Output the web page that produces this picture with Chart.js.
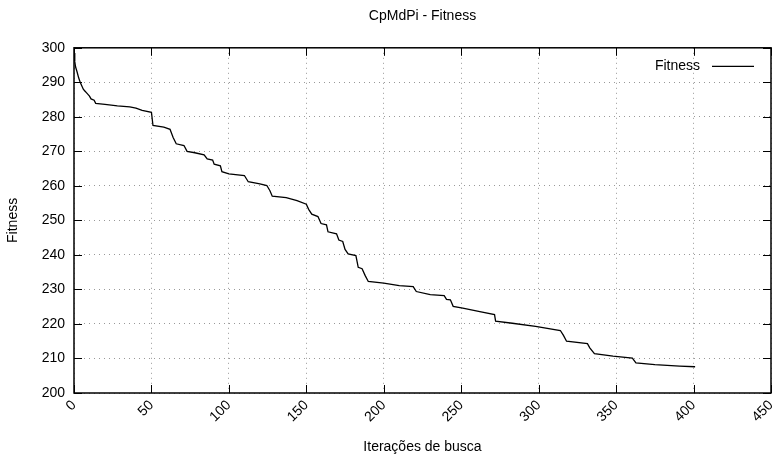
<!DOCTYPE html>
<html>
<head>
<meta charset="utf-8">
<script src="https://cdn.jsdelivr.net/npm/chart.js@4.4.1/dist/chart.umd.min.js"></script>
<style>
  html, body { margin: 0; padding: 0; background: #fff; }
  #wrap { width: 775px; height: 466px; position: relative; }
</style>
</head>
<body>
<div id="wrap"><canvas id="c" width="775" height="466"></canvas></div>
<script>
const chartTitle = "CpMdPi - Fitness";
const xAxisTitle = "Iterações de busca";
const yAxisTitle = "Fitness";
const seriesName = "Fitness";

const iterations = [0, 0.5, 1, 2, 3, 4, 5, 6, 7, 8, 9, 10, 11, 13, 14, 20, 28, 36, 40, 44, 50, 51, 58, 62, 64, 66, 71, 73, 78, 84, 86, 89.5, 90.5, 94.5, 95.5, 100, 110, 112.5, 120, 124.5, 126.5, 128, 137, 144, 150, 151.5, 153.5, 157.5, 159.5, 163, 164, 169.5, 171, 173.5, 175, 177, 182, 183.5, 186, 188, 190, 200, 210, 219, 221, 230, 239, 240.5, 243, 244.8, 251, 262, 271.5, 272.2, 283, 298, 314, 316, 318, 331.5, 333, 336, 348, 360.5, 362.8, 375, 391, 401];
const fitness = [298.5, 296, 294.5, 293, 291.3, 290, 289, 288, 287.5, 287, 286.5, 286, 285.2, 284.8, 283.9, 283.6, 283.2, 282.9, 282.5, 281.9, 281.3, 277.5, 277, 276.4, 274, 272.2, 271.7, 270, 269.6, 269, 267.8, 267.5, 266.3, 265.8, 264.1, 263.5, 263, 261.2, 260.6, 260.1, 258.6, 257, 256.6, 255.7, 254.7, 253.2, 251.8, 251.1, 249.1, 248.7, 246.7, 246.1, 244.3, 243.9, 241.6, 240.3, 239.8, 236.4, 236, 234, 232.3, 231.8, 231.1, 230.8, 229.4, 228.5, 228.2, 227.1, 227, 225.1, 224.6, 223.6, 222.7, 220.8, 220.2, 219.3, 218.1, 216.7, 215, 214.3, 213.1, 211.4, 210.7, 210.1, 208.7, 208.2, 207.8, 207.6];

const xMin = 0, xMax = 450, xStep = 50;
const yMin = 200, yMax = 300, yStep = 10;

const points = iterations.map((x, i) => ({ x: x, y: fitness[i] }));
const FONT = '"Liberation Sans", Arial, Helvetica, sans-serif';

const framePlugin = {
  id: 'frame',
  afterDatasetsDraw(chart) {
    const { ctx, chartArea: a, scales: { x, y } } = chart;
    ctx.save();
    ctx.strokeStyle = '#000';
    ctx.lineWidth = 1;
    const tl = 8;
    ctx.beginPath();
    for (let v = xMin; v <= xMax; v += xStep) {
      const px = Math.round(x.getPixelForValue(v)) + 0.5;
      ctx.moveTo(px, a.bottom); ctx.lineTo(px, a.bottom - tl);
      ctx.moveTo(px, a.top); ctx.lineTo(px, a.top + tl);
    }
    for (let v = yMin; v <= yMax; v += yStep) {
      const py = Math.round(y.getPixelForValue(v)) + 0.5;
      ctx.moveTo(a.left, py); ctx.lineTo(a.left + tl, py);
      ctx.moveTo(a.right, py); ctx.lineTo(a.right - tl, py);
    }
    ctx.stroke();
    ctx.lineWidth = 1.5;
    ctx.strokeRect(a.left, a.top, a.right - a.left, a.bottom - a.top);
    // legend
    ctx.font = '14px ' + FONT;
    ctx.fillStyle = '#000';
    ctx.textAlign = 'right';
    ctx.textBaseline = 'middle';
    const ly = a.top + 18;
    ctx.fillText(seriesName, a.right - 71, ly);
    ctx.lineWidth = 1.3;
    ctx.beginPath();
    ctx.moveTo(a.right - 59, ly + 0.5);
    ctx.lineTo(a.right - 17, ly + 0.5);
    ctx.stroke();
    ctx.restore();
  }
};

new Chart(document.getElementById('c'), {
  type: 'line',
  data: {
    datasets: [{
      label: seriesName,
      data: points,
      borderColor: '#000',
      borderWidth: 1.3,
      pointRadius: 0,
      tension: 0,
      fill: false
    }]
  },
  options: {
    responsive: false,
    animation: false,
    events: [],
    layout: { padding: { left: 0, right: 4, top: 0, bottom: 0 } },
    plugins: {
      legend: { display: false },
      tooltip: { enabled: false },
      title: {
        display: true,
        text: chartTitle,
        fullSize: false,
        color: '#000',
        font: { family: FONT, size: 14, weight: 'normal' },
        padding: { top: 8, bottom: 23 }
      }
    },
    scales: {
      x: {
        type: 'linear',
        min: xMin, max: xMax,
        afterFit(s) { s.height = 73; s.paddingLeft = 0; s.paddingRight = 0; },
        ticks: {
          stepSize: xStep,
          autoSkip: false,
          minRotation: 45, maxRotation: 45,
          padding: 4,
          color: '#000',
          font: { family: FONT, size: 14 }
        },
        grid: { color: '#999', lineWidth: 1, drawTicks: false },
        border: { display: false, dash: [1, 4] },
        title: {
          display: true, text: xAxisTitle, color: '#000',
          font: { family: FONT, size: 14 },
          padding: { top: 0, bottom: 10 }
        }
      },
      y: {
        min: yMin, max: yMax,
        afterFit(s) { s.width = 74; },
        ticks: {
          stepSize: yStep,
          padding: 9,
          color: '#000',
          font: { family: FONT, size: 14 }
        },
        grid: { color: '#999', lineWidth: 1, drawTicks: false },
        border: { display: false, dash: [1, 4] },
        title: {
          display: true, text: yAxisTitle, color: '#000',
          font: { family: FONT, size: 14 },
          padding: { top: 5, bottom: 0 }
        }
      }
    }
  },
  plugins: [framePlugin]
});
</script>
</body>
</html>
